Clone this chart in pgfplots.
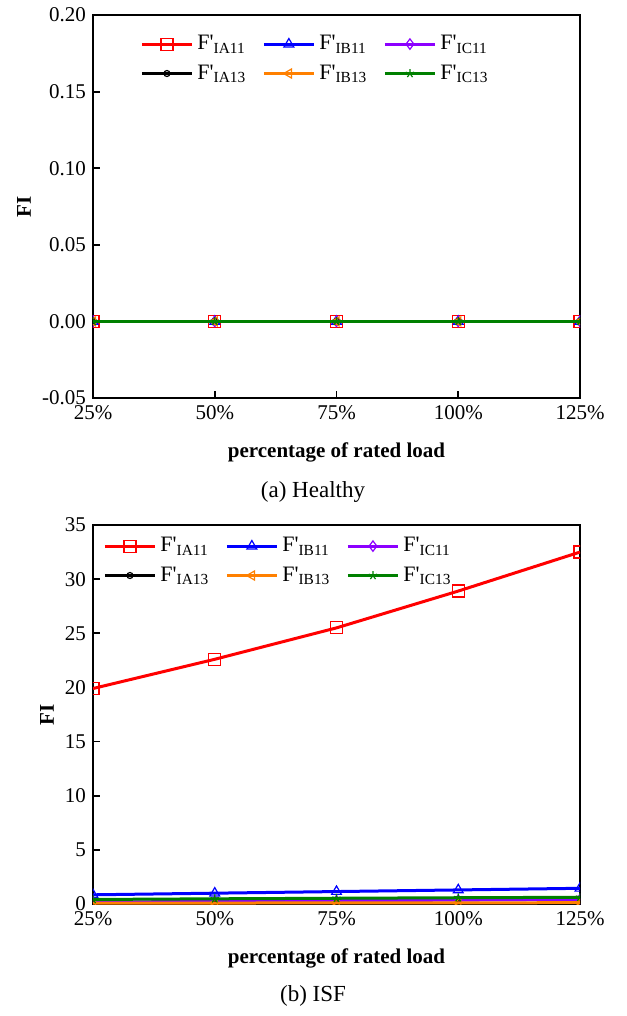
\documentclass[border=0pt]{standalone}
\usepackage{pgfplots}
\pgfplotsset{compat=1.18}
\usepackage{fontspec}
\setmainfont{Liberation Serif}
\newfontfamily\legfont{Liberation Serif}
\definecolor{cRed}{RGB}{255,0,0}
\definecolor{cBlue}{RGB}{0,0,255}
\definecolor{cViolet}{RGB}{140,0,255}
\definecolor{cOrange}{RGB}{255,128,0}
\definecolor{cGreen}{RGB}{0,128,0}

\pgfplotsset{
 myaxis/.style={
  scale only axis, width=243.5pt,
  xmin=0, xmax=4, xtick={0,1,2,3,4},
  xticklabels={25\%,50\%,75\%,100\%,125\%},
  axis line style={line width=0.9pt},
  tick align=inside, xtick pos=bottom, ytick pos=left,
  major tick length=3.5pt,
  tick style={line width=0.9pt, black},
  tick label style={font=\fontsize{10.5}{12}\selectfont},
  xlabel={percentage of rated load}, ylabel={FI},
  label style={font=\fontsize{10.5}{12}\selectfont\bfseries},
  xlabel style={at={(axis description cs:0.5,0)},anchor=center,yshift=-27pt},
  clip marker paths=true,
  legend columns=3,
  legend cell align=left,
  legend style={draw=none, fill=none, inner sep=0pt,
    font=\legfont\fontsize{11}{13}\selectfont,
    /tikz/every even column/.append style={column sep=6pt},
    row sep=2pt},
  legend image code/.code={\draw[mark repeat=2,mark phase=2] plot coordinates {(0cm,0cm) (0.44cm,0cm) (0.88cm,0cm)};},
  every axis plot/.append style={line width=1.5pt},
  /pgf/number format/assume math mode=true,
 },
 sA/.style={cRed, mark=square, mark size=3pt, mark options={solid, line width=0.6pt, fill=white}},
 sB/.style={cBlue, mark=triangle, mark size=2.8pt, mark options={solid, line width=0.6pt, fill=white}},
 sC/.style={cViolet, mark=diamond, mark size=2.6pt, mark options={solid, line width=0.6pt, fill=white}},
 sD/.style={black, mark=o, mark size=1.5pt, mark options={solid, line width=0.6pt, fill=white}},
 sE/.style={cOrange, mark=triangle, mark size=2.6pt, mark options={solid, line width=0.6pt, fill=white, rotate=90}},
 sF/.style={cGreen, mark=star, mark size=2.2pt, mark options={solid, line width=0.6pt}},
}

\begin{document}
\begin{tikzpicture}
\useasboundingbox (0,0) rectangle (313pt,-508pt);

\begin{axis}[myaxis,
  at={(46.5pt,-199pt)}, anchor=south west, height=191.5pt,
  ymin=-0.05, ymax=0.2,
  ytick={-0.05,0,0.05,0.1,0.15,0.2},
  yticklabels={-0.05,0.00,0.05,0.10,0.15,0.20},
  ylabel style={at={(axis description cs:0,0.5)},anchor=center,rotate=0,yshift=34.5pt},
  legend style={at={(axis description cs:0,1)}, anchor=north west, xshift=23.5pt, yshift=-8pt},
]
\addplot[sA] coordinates {(0,0) (1,0) (2,0) (3,0) (4,0)};
\addplot[sB] coordinates {(0,0) (1,0) (2,0) (3,0) (4,0)};
\addplot[sC] coordinates {(0,0) (1,0) (2,0) (3,0) (4,0)};
\addplot[sD] coordinates {(0,0) (1,0) (2,0) (3,0) (4,0)};
\addplot[sE] coordinates {(0,0) (1,0) (2,0) (3,0) (4,0)};
\addplot[sF] coordinates {(0,0) (1,0) (2,0) (3,0) (4,0)};
\legend{F'\textsubscript{IA11},F'\textsubscript{IB11},F'\textsubscript{IC11},F'\textsubscript{IA13},F'\textsubscript{IB13},F'\textsubscript{IC13}}
\end{axis}

\begin{axis}[myaxis,
  at={(46.5pt,-452pt)}, anchor=south west, height=189.5pt,
  ymin=0, ymax=35,
  ytick={0,5,10,15,20,25,30,35},
  ylabel style={at={(axis description cs:0,0.5)},anchor=center,rotate=0,yshift=23pt},
  legend style={at={(axis description cs:0,1)}, anchor=north west, xshift=5pt, yshift=-4pt},
]
\addplot[sA] coordinates {(0,19.9) (1,22.6) (2,25.5) (3,28.9) (4,32.5)};
\addplot[sB] coordinates {(0,0.85) (1,1.0) (2,1.15) (3,1.3) (4,1.45)};
\addplot[sC] coordinates {(0,0.18) (1,0.24) (2,0.3) (3,0.36) (4,0.42)};
\addplot[sD] coordinates {(0,0.02) (1,0.02) (2,0.03) (3,0.03) (4,0.03)};
\addplot[sE] coordinates {(0,0.08) (1,0.09) (2,0.10) (3,0.11) (4,0.12)};
\addplot[sF] coordinates {(0,0.42) (1,0.48) (2,0.53) (3,0.58) (4,0.62)};
\legend{F'\textsubscript{IA11},F'\textsubscript{IB11},F'\textsubscript{IC11},F'\textsubscript{IA13},F'\textsubscript{IB13},F'\textsubscript{IC13}}
\end{axis}

\node[font=\fontsize{11.5}{13}\selectfont] at (156.5pt,-246pt) {(a) Healthy};
\node[font=\fontsize{11.5}{13}\selectfont] at (156.5pt,-498pt) {(b) ISF};
\end{tikzpicture}
\end{document}
